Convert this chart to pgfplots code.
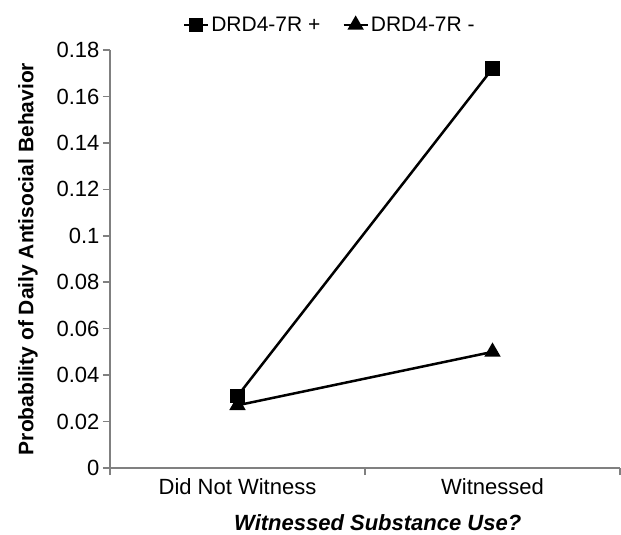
\documentclass[border=0pt]{standalone}
\usepackage{fontspec}
\setmainfont{Liberation Sans}
\usepackage{pgfplots}
\pgfplotsset{compat=1.18}
\definecolor{axgray}{RGB}{128,128,128}

\begin{document}
\begin{tikzpicture}
\useasboundingbox (-110pt,-67pt) rectangle (511pt,468pt);
\begin{axis}[
    at={(0pt,0pt)}, anchor=south west,
    scale only axis,
    width=510pt, height=418pt,
    xmin=-0.5, xmax=1.5,
    ymin=0, ymax=0.18,
    axis x line*=bottom,
    axis y line*=left,
    axis line style={axgray, line width=1.6pt, -},
    tick style={axgray, line width=1.6pt},
    tick align=outside,
    major tick length=7pt,
    minor tick length=7pt,
    xtick={0,1},
    xticklabels={Did Not Witness, Witnessed},
    major x tick style={draw=none},
    minor xtick={-0.5,0.5,1.5},
    ytick={0,0.02,0.04,0.06,0.08,0.1,0.12,0.14,0.16,0.18},
    yticklabel style={/pgf/number format/fixed, /pgf/number format/precision=2},
    /pgf/number format/assume math mode=true,
    ticklabel style={font=\fontsize{22}{26}\selectfont},
    scaled y ticks=false,
    ylabel={\textbf{Probability of Daily Antisocial Behavior}},
    ylabel style={at={(axis description cs:-0.161,0.5)}, anchor=center, font=\fontsize{21}{25}\selectfont},
    xlabel={\textbf{\textit{Witnessed Substance Use?}}},
    xlabel style={at={(axis description cs:0.525,-0.1316)}, anchor=center, font=\fontsize{22}{26}\selectfont},
    legend style={at={(axis description cs:0.431,1.06)}, anchor=center, draw=none, fill=none,
        legend columns=-1, font=\fontsize{21}{25}\selectfont,
        /tikz/every even column/.append style={column sep=20pt},
        inner sep=0pt},
    legend image code/.code={\draw[mark repeat=2, mark phase=2] plot coordinates {(0cm,0cm) (0.42cm,0cm) (0.84cm,0cm)};},
    clip=false,
]
\addplot[black, line width=2.5pt, mark=square*, mark size=6pt, mark options={solid}] coordinates {(0,0.031) (1,0.172)};
\addplot[black, line width=2.5pt, mark=triangle*, mark size=7pt, mark options={solid}] coordinates {(0,0.027) (1,0.050)};
\legend{DRD4-7R +, DRD4-7R -}
\end{axis}
\end{tikzpicture}
\end{document}
